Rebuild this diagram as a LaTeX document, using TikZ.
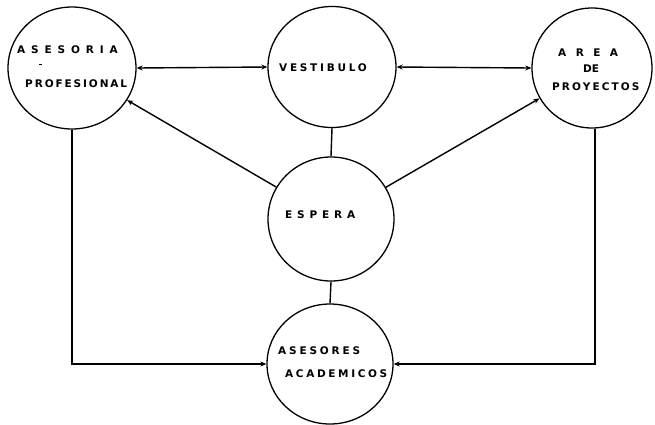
\documentclass[tikz,border=0pt]{standalone}
\usepackage{fontspec}
\newfontfamily\labfont{DejaVu Sans Bold}
\usetikzlibrary{shapes.geometric,arrows.meta}
\begin{document}
\begin{tikzpicture}[x=1pt,y=-1pt,
  room/.style={draw, ellipse, line width=1.3pt, inner sep=0pt},
  lbl/.style={anchor=west, inner sep=0pt, font=\labfont\fontsize{10.5}{12}\selectfont},
  link/.style={line width=1.4pt},
  tip/.style={-{Stealth[length=6pt,width=5pt]}},
  tips/.style={{Stealth[length=6pt,width=5pt]}-{Stealth[length=6pt,width=5pt]}}]
\useasboundingbox (0,0) rectangle (655,424);
% rooms
\node[room, minimum width=128pt, minimum height=122pt] (aso) at (72,68) {};
\node[room, minimum width=128pt, minimum height=121pt] (ves) at (332,67) {};
\node[room, minimum width=120pt, minimum height=120pt] (are) at (592,68) {};
\node[room, minimum width=126pt, minimum height=124pt] (esp) at (331,219) {};
\node[room, minimum width=126pt, minimum height=120pt] (aca) at (330,364) {};
% labels
\node[lbl] (t1) at (17,50) {\addfontfeature{LetterSpace=56}ASESORIA};
\node[lbl] (t2) at (25,84) {\addfontfeature{LetterSpace=18}PROFESIONAL};
\node[lbl] (t3) at (279,68) {\addfontfeature{LetterSpace=26}VESTIBULO};
\node[lbl] (t4) at (558,53) {\addfontfeature{LetterSpace=90}AREA};
\node[lbl] (t5) at (583,69) {\addfontfeature{LetterSpace=0}DE};
\node[lbl] (t6) at (552,87) {\addfontfeature{LetterSpace=20}PROYECTOS};
\node[lbl] (t7) at (285,215) {\addfontfeature{LetterSpace=46}ESPERA};
\node[lbl] (t8) at (278,351) {\addfontfeature{LetterSpace=27}ASESORES};
\node[lbl] (t9) at (285,374) {\addfontfeature{LetterSpace=25}ACADEMICOS};
\draw[line width=1pt] (39,64) -- (42,64);
% connectors
\draw[link,tips] (aso.east) -- (ves.west);
\draw[link,tips] (ves.east) -- (are.west);
\draw[link,tip] (esp) -- (aso);
\draw[link,tip] (esp) -- (are);
\draw[link] (ves.south) -- (esp.north);
\draw[link] (esp.south) -- (aca.north);
\draw[link,tip] (aso.south) |- (aca.west);
\draw[link,tip] ([xshift=3pt]are.south) |- (aca.east);
\end{tikzpicture}
\end{document}
